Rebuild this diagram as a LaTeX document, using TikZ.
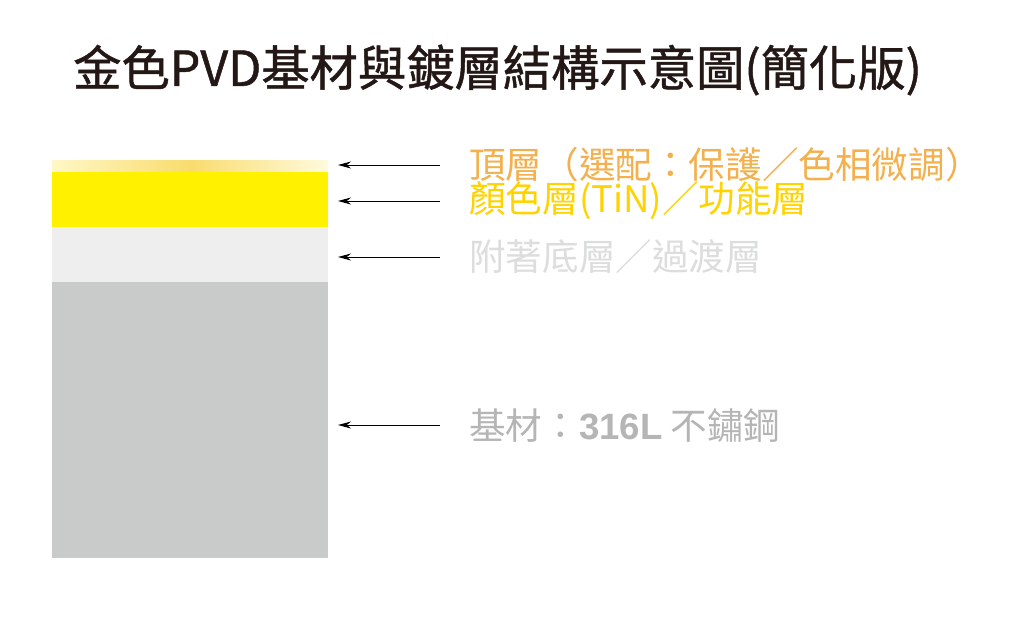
\documentclass[tikz,border=0pt]{standalone}
\usepackage{fontspec}
\setmainfont{Noto Sans CJK TC}
\newfontfamily\titlefont{Noto Sans CJK TC}[FakeBold=1]
\newfontfamily\latinbold{Liberation Sans}
\usetikzlibrary{arrows.meta,positioning}
\definecolor{titleink}{HTML}{231815}
\definecolor{topcream}{HTML}{FFF7C6}
\definecolor{topgold}{HTML}{F9DC6E}
\definecolor{tinyellow}{HTML}{FFF100}
\definecolor{bondgray}{HTML}{EEEEEE}
\definecolor{steelgray}{HTML}{C9CACA}
\definecolor{toplabel}{HTML}{F3B04D}
\definecolor{tinlabel}{HTML}{FFD300}
\definecolor{bondlabel}{HTML}{DCDDDD}
\definecolor{steellabel}{HTML}{B5B5B5}

\begin{document}
\begin{tikzpicture}[x=1pt,y=-1pt,>={Stealth[length=13pt,width=7pt]},
 layer/.style={minimum width=276pt, inner sep=0pt, outer sep=0pt},
 lbl/.style={anchor=west, inner sep=0pt, font=\fontsize{36.6}{37}\selectfont},
 pointer/.style={->, line width=1pt, shorten <=29pt, shorten >=10pt}]
 \useasboundingbox[fill=white] (0,0) rectangle (1009,621);
 \node[anchor=west, inner sep=0pt, text=titleink, font=\titlefont\fontsize{48.3}{50}\selectfont] (title) at (73,70) {金色PVD基材與鍍層結構示意圖(簡化版)};
 % layers, top to bottom
 \node[layer, anchor=north west, minimum height=12pt, left color=topcream, right color=topcream!60!white, middle color=topgold] (toplayer) at (52,160) {};
 \node[layer, below=0pt of toplayer, minimum height=55pt, fill=tinyellow] (tinlayer) {};
 \node[layer, below=0pt of tinlayer, minimum height=55pt, fill=bondgray] (bondlayer) {};
 \node[layer, below=0pt of bondlayer, minimum height=276pt, fill=steelgray] (steellayer) {};
 % labels
 \node[lbl, text=toplabel] (toplbl) at (469,165) {頂層（選配：保護／色相微調）};
 \node[lbl, text=tinlabel] (tinlbl) at (469,201) {顏色層(TiN)／功能層};
 \node[lbl, text=bondlabel] (bondlbl) at (469,257) {附著底層／過渡層};
 \node[lbl, text=steellabel] (steellbl) at (469,425) {基材：{\latinbold\bfseries 316L} 不鏽鋼};
 \draw[pointer] (toplbl.west) -- (toplbl.west -| toplayer.east);
 \draw[pointer] (tinlbl.west) -- (tinlbl.west -| tinlayer.east);
 \draw[pointer] (bondlbl.west) -- (bondlbl.west -| bondlayer.east);
 \draw[pointer] (steellbl.west) -- (steellbl.west -| steellayer.east);
\end{tikzpicture}
\end{document}
